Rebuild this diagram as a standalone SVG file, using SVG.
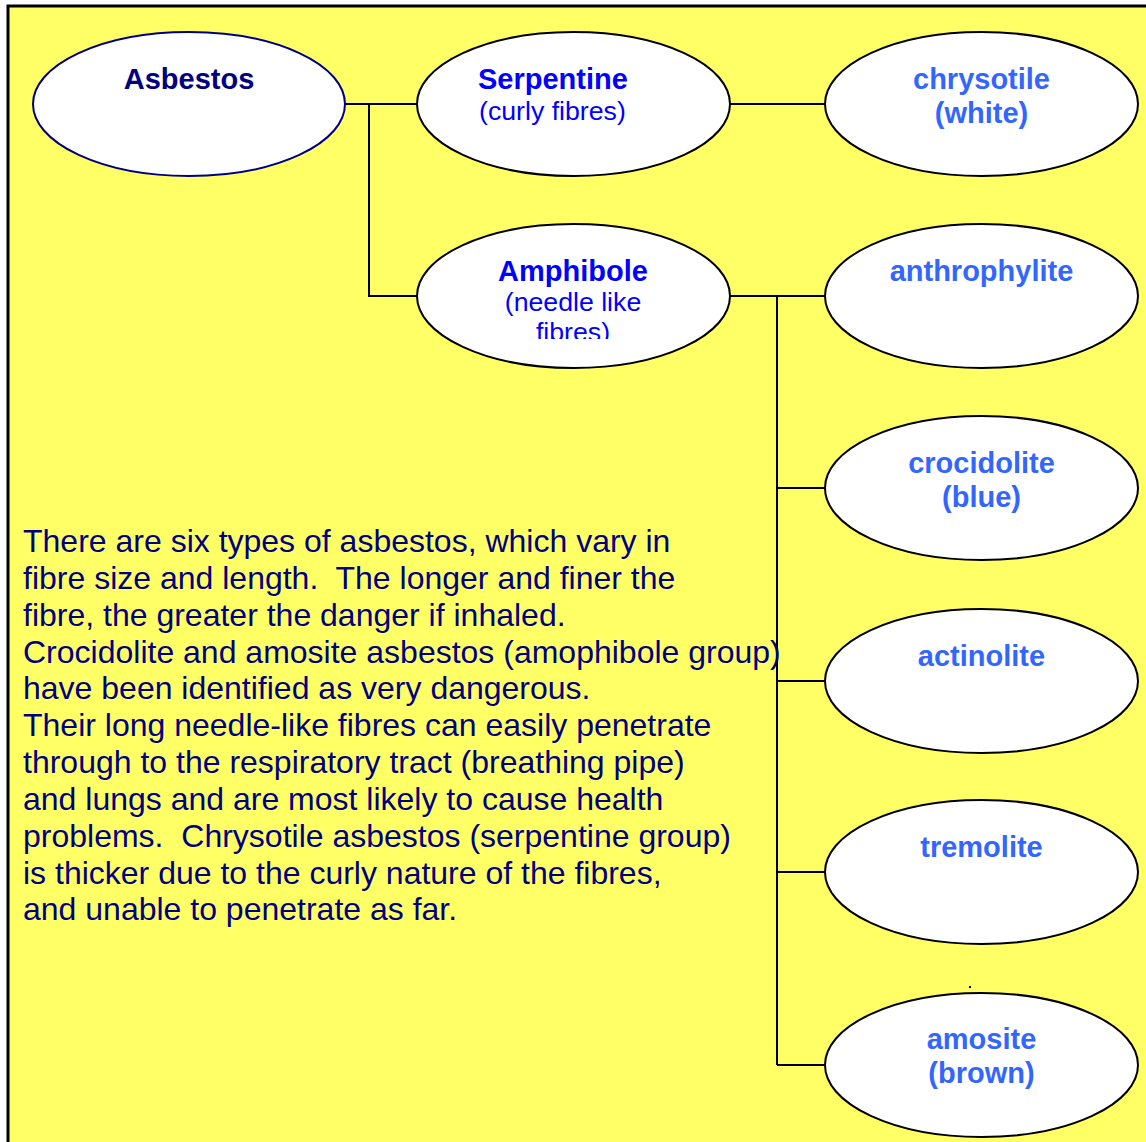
<svg xmlns="http://www.w3.org/2000/svg" width="1146" height="1142" viewBox="0 0 1146 1142">
<style>
.bg{fill:#FFFF66;stroke:#000;stroke-width:3}
.node{fill:#fff;stroke:#000;stroke-width:2}
.root{fill:#fff;stroke:#000080;stroke-width:2}
.conn{fill:none;stroke:#000;stroke-width:2}
text{font-family:"Liberation Sans",Arial,sans-serif}
.t0{font-weight:bold;font-size:29px;fill:#000080}
.t1{font-weight:bold;font-size:29px;fill:#0000FF}
.s1{font-size:26.7px;fill:#0000FF}
.t2{font-weight:bold;font-size:29px;fill:#3366FF;text-anchor:middle}
.body{font-size:32px;fill:#000080}
</style>
<defs>
<clipPath id="clipAmph"><rect x="400" y="220" width="340" height="119"/></clipPath>
</defs>
<rect class="bg" x="8" y="6" width="1150" height="1150"/>
<g id="connectors">
<path class="conn" d="M345,104 H417 M369,104 V296 H417 M730,104 H825 M730,296 H825 M777,296 V1065 M777,488 H825 M777,681 H825 M777,872 H825 M777,1065 H825"/>
<rect x="393" y="103" width="2" height="2" fill="#000"/>
<rect x="969" y="986" width="2" height="2" fill="#000"/>
</g>
<g id="asbestos">
<ellipse class="root" cx="189" cy="104" rx="156" ry="72"/>
<text class="t0" x="189" y="89" text-anchor="middle">Asbestos</text>
</g>
<g id="serpentine">
<ellipse class="node" cx="573.5" cy="104" rx="156.5" ry="72"/>
<text class="t1" x="478" y="89">Serpentine</text>
<text class="s1" x="479" y="120">(curly fibres)</text>
</g>
<g id="amphibole">
<ellipse class="node" cx="573.5" cy="296" rx="156.5" ry="72"/>
<text class="t1" x="573" y="281" text-anchor="middle">Amphibole</text>
<g clip-path="url(#clipAmph)">
<text class="s1" x="573" y="311" text-anchor="middle">(needle like</text>
<text class="s1" x="573" y="341" text-anchor="middle">fibres)</text>
</g>
</g>
<g id="chrysotile">
<ellipse class="node" cx="981.5" cy="104" rx="156.5" ry="72"/>
<text class="t2" x="981.5" y="89">chrysotile</text>
<text class="t2" x="981.5" y="123">(white)</text>
</g>
<g id="anthrophylite">
<ellipse class="node" cx="981.5" cy="296" rx="156.5" ry="72"/>
<text class="t2" x="981.5" y="281">anthrophylite</text>
</g>
<g id="crocidolite">
<ellipse class="node" cx="981.5" cy="488" rx="156.5" ry="72"/>
<text class="t2" x="981.5" y="473">crocidolite</text>
<text class="t2" x="981.5" y="507">(blue)</text>
</g>
<g id="actinolite">
<ellipse class="node" cx="981.5" cy="681" rx="156.5" ry="72"/>
<text class="t2" x="981.5" y="666">actinolite</text>
</g>
<g id="tremolite">
<ellipse class="node" cx="981.5" cy="872" rx="156.5" ry="72"/>
<text class="t2" x="981.5" y="857">tremolite</text>
</g>
<g id="amosite">
<ellipse class="node" cx="981.5" cy="1065" rx="156.5" ry="72"/>
<text class="t2" x="981.5" y="1049">amosite</text>
<text class="t2" x="981.5" y="1083">(brown)</text>
</g>
<g id="description">
<text class="body" xml:space="preserve">
<tspan x="23" y="552">There are six types of asbestos, which vary in</tspan>
<tspan x="23" y="589">fibre size and length.  The longer and finer the</tspan>
<tspan x="23" y="626">fibre, the greater the danger if inhaled.</tspan>
<tspan x="23" y="663">Crocidolite and amosite asbestos (amophibole group)</tspan>
<tspan x="23" y="699">have been identified as very dangerous.</tspan>
<tspan x="23" y="736">Their long needle-like fibres can easily penetrate</tspan>
<tspan x="23" y="773">through to the respiratory tract (breathing pipe)</tspan>
<tspan x="23" y="810">and lungs and are most likely to cause health</tspan>
<tspan x="23" y="847">problems.  Chrysotile asbestos (serpentine group)</tspan>
<tspan x="23" y="884">is thicker due to the curly nature of the fibres,</tspan>
<tspan x="23" y="920">and unable to penetrate as far.</tspan>
</text>
</g>
</svg>
